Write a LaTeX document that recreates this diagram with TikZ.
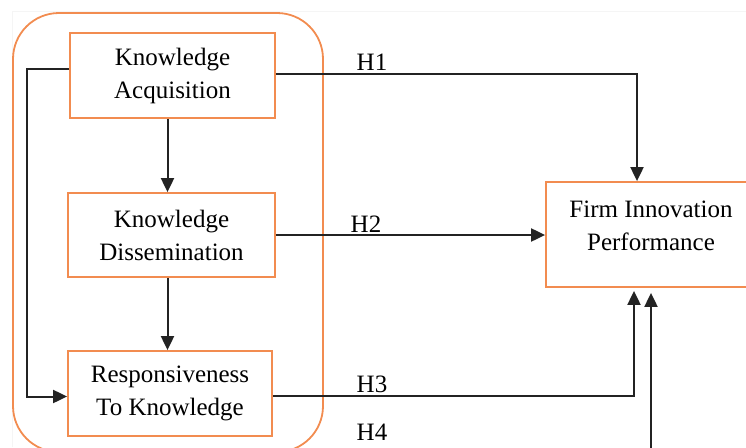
\documentclass[tikz,border=0pt]{standalone}
\usepackage{fontspec}
\setmainfont{Liberation Serif}
\usetikzlibrary{positioning, arrows.meta}
\usetikzlibrary{fit}
\definecolor{box_orange}{RGB}{242,140,80}
\definecolor{line_grey}{RGB}{35,35,35}

\begin{document}
\begin{tikzpicture}[x=1pt, y=-1pt, >={Triangle[length=14pt, width=13pt]},
    font=\fontsize{25}{33}\selectfont,
    factor/.style={draw=box_orange, line width=1.8pt, rectangle, align=center, inner sep=0pt},
    link/.style={->, draw=line_grey, line width=2pt}]

    \useasboundingbox (0,0) rectangle (746,447);
    \clip (0,0) rectangle (746,447);

    % Faint frame of the figure.
    \draw[gray!8, line width=0.8pt] (746,11) -- (12,11) -- (12,447);

    % --- Begin Knowledge Management Nodes ---
    \node [factor, minimum width=205pt, minimum height=85pt] (KnowledgeAcquisition) at (172.5,75.5) {Knowledge\\Acquisition};
    \node [factor, minimum width=207pt, minimum height=84pt] (KnowledgeDissemination) at (171.5,235) {Knowledge\\Dissemination};
    \node [factor, minimum width=204pt, minimum height=85pt] (Responsiveness) at (170,393.5) {Responsiveness\\To Knowledge};

    % Rounded frame round the three nodes.
    \node [draw=box_orange, line width=1.8pt, rounded corners=46pt, fit={(13,13) (323,452)}, inner sep=0pt] (KnowledgeNode) {};
    % --- End Knowledge Management Nodes ---

    % --- Begin Firm Innovation Node ---
    \node [align=center] (firm_innovation_text) at (651,226) {Firm Innovation\\Performance};
    \node [draw=box_orange, line width=1.8pt, fit={(546,182) (756,287)}, inner sep=0pt] (FirmInnovationNode) {};
    % --- End Firm Innovation Node ---

    % Hypothesis labels.
    \node (h1) at (372,62) {H1};
    \node (h2) at (366,224) {H2};
    \node (h3) at (372,384) {H3};
    \node (h4) at (372,432) {H4};

    % Free end of the H4 path, below the picture.
    \coordinate (h4_start) at (651,470);

    % Connect the nodes.
    \draw[link] ([xshift=-5pt]KnowledgeAcquisition.south) -- ([xshift=-5pt]KnowledgeAcquisition.south |- KnowledgeDissemination.north);
    \draw[link] ([xshift=-4pt]KnowledgeDissemination.south) -- ([xshift=-4pt]KnowledgeDissemination.south |- Responsiveness.north);
    \draw[link] ([yshift=7pt]KnowledgeAcquisition.west) -- ++(-42,0) |- ([yshift=-3pt]Responsiveness.west);
    \draw[link] ([yshift=2pt]KnowledgeAcquisition.east) -| ([xshift=-14pt]FirmInnovationNode.north);
    \draw[link] (KnowledgeDissemination.east) -- (KnowledgeDissemination.east -| FirmInnovationNode.west);
    \draw[link, shorten >=3pt] ([yshift=-2pt]Responsiveness.east) -| ([xshift=-17pt]FirmInnovationNode.south);
    \draw[link, shorten >=5pt] (h4_start) -- (h4_start |- FirmInnovationNode.south);

\end{tikzpicture}
\end{document}
